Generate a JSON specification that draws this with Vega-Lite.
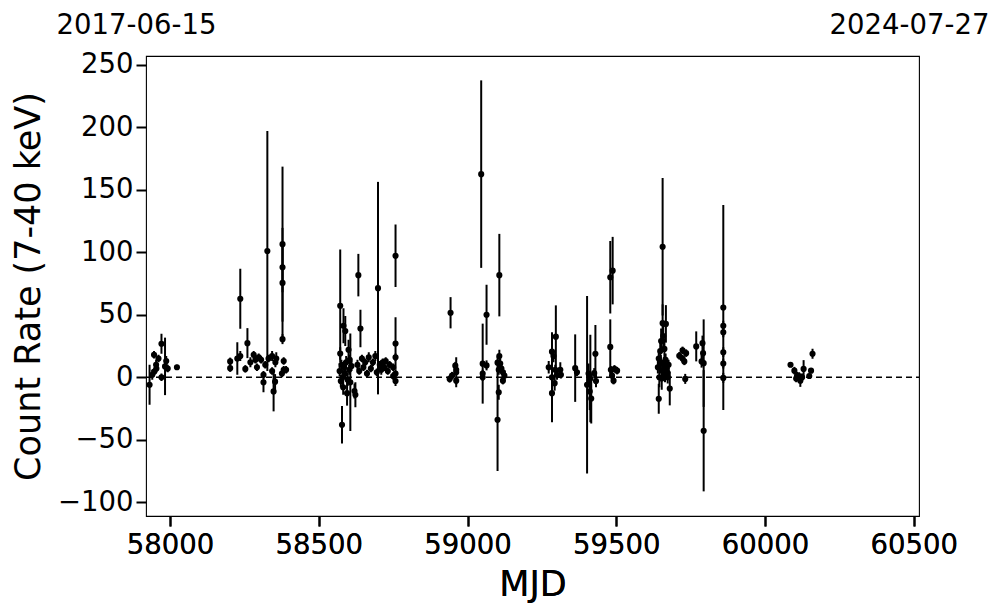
{
  "$schema": "https://vega.github.io/schema/vega-lite/v6.json",
  "width": 773,
  "height": 460,
  "autosize": "none",
  "padding": {"left": 146, "top": 56, "right": 78, "bottom": 97},
  "background": "white",
  "config": {
    "view": {"stroke": "black", "strokeWidth": 1.1},
    "font": "DejaVu Sans",
    "axis": {
      "labelFont": "DejaVu Sans", "titleFont": "DejaVu Sans",
      "labelColor": "black", "titleColor": "black",
      "labelFontSize": 27.5, "titleFontSize": 35, "titleFontWeight": "normal",
      "grid": false, "domain": false,
      "tickColor": "black", "tickSize": 10, "tickWidth": 2
    }
  },
  "datasets": {
    "obs": [
      {"mjd": 57931, "rate": -6, "err": 16},
      {"mjd": 57940, "rate": 2, "err": 4},
      {"mjd": 57947, "rate": 4.6, "err": 3},
      {"mjd": 57946, "rate": 18, "err": 3},
      {"mjd": 57953, "rate": 10, "err": 4},
      {"mjd": 57954, "rate": 7, "err": 3},
      {"mjd": 57961, "rate": 15, "err": 3},
      {"mjd": 57971, "rate": 26.8, "err": 8},
      {"mjd": 57971, "rate": 0, "err": 3},
      {"mjd": 57983, "rate": 8.7, "err": 23},
      {"mjd": 57987, "rate": 13, "err": 4},
      {"mjd": 57992, "rate": 7, "err": 3},
      {"mjd": 58023, "rate": 8, "err": 2},
      {"mjd": 58202, "rate": 12.7, "err": 3},
      {"mjd": 58202, "rate": 7.3, "err": 3},
      {"mjd": 58226, "rate": 15, "err": 13},
      {"mjd": 58236, "rate": 62.8, "err": 24},
      {"mjd": 58236, "rate": 17, "err": 4},
      {"mjd": 58253, "rate": 6.7, "err": 3},
      {"mjd": 58260, "rate": 27.3, "err": 12},
      {"mjd": 58270, "rate": 12, "err": 4},
      {"mjd": 58281, "rate": 18, "err": 3},
      {"mjd": 58287, "rate": 14, "err": 3},
      {"mjd": 58292, "rate": 8, "err": 3},
      {"mjd": 58298, "rate": 16, "err": 3},
      {"mjd": 58306, "rate": 14, "err": 3},
      {"mjd": 58314, "rate": -4, "err": 8},
      {"mjd": 58314, "rate": 2, "err": 3},
      {"mjd": 58320, "rate": 10, "err": 3},
      {"mjd": 58327, "rate": 101, "err": 96},
      {"mjd": 58331, "rate": 15, "err": 3},
      {"mjd": 58343, "rate": 17, "err": 4},
      {"mjd": 58343, "rate": 5, "err": 3},
      {"mjd": 58348, "rate": -11.3, "err": 16},
      {"mjd": 58353, "rate": -3.5, "err": 6},
      {"mjd": 58354, "rate": 12, "err": 4},
      {"mjd": 58357, "rate": 15, "err": 5},
      {"mjd": 58376, "rate": 3, "err": 3},
      {"mjd": 58378, "rate": 106.5, "err": 62},
      {"mjd": 58378, "rate": 88, "err": 20},
      {"mjd": 58378, "rate": 75.5, "err": 44},
      {"mjd": 58378, "rate": 30.5, "err": 4},
      {"mjd": 58382, "rate": 6, "err": 3},
      {"mjd": 58382, "rate": 13, "err": 3},
      {"mjd": 58390, "rate": 6, "err": 3},
      {"mjd": 58570, "rate": 5, "err": 4},
      {"mjd": 58572, "rate": 57.2, "err": 45},
      {"mjd": 58572, "rate": 19, "err": 5},
      {"mjd": 58574, "rate": -3, "err": 5},
      {"mjd": 58576, "rate": 10, "err": 4},
      {"mjd": 58578, "rate": -38, "err": 15},
      {"mjd": 58580, "rate": 0, "err": 6},
      {"mjd": 58582, "rate": -8, "err": 6},
      {"mjd": 58583, "rate": 41.2, "err": 14},
      {"mjd": 58585, "rate": 8, "err": 5},
      {"mjd": 58588, "rate": 3, "err": 4},
      {"mjd": 58589, "rate": 37, "err": 12},
      {"mjd": 58592, "rate": 12, "err": 5},
      {"mjd": 58595, "rate": -12.7, "err": 10},
      {"mjd": 58597, "rate": -2, "err": 5},
      {"mjd": 58600, "rate": 22, "err": 8},
      {"mjd": 58602, "rate": 6, "err": 4},
      {"mjd": 58604, "rate": 14, "err": 4},
      {"mjd": 58606, "rate": -4, "err": 39},
      {"mjd": 58610, "rate": 9, "err": 4},
      {"mjd": 58620, "rate": -11, "err": 6},
      {"mjd": 58623, "rate": -14, "err": 10},
      {"mjd": 58630, "rate": 10, "err": 4},
      {"mjd": 58633, "rate": 81.7, "err": 17},
      {"mjd": 58636, "rate": 5, "err": 3},
      {"mjd": 58640, "rate": 39, "err": 15},
      {"mjd": 58645, "rate": 15, "err": 3},
      {"mjd": 58650, "rate": 8, "err": 3},
      {"mjd": 58656, "rate": 12, "err": 3},
      {"mjd": 58662, "rate": 3, "err": 3},
      {"mjd": 58668, "rate": 16, "err": 4},
      {"mjd": 58675, "rate": 7, "err": 3},
      {"mjd": 58682, "rate": 12, "err": 3},
      {"mjd": 58690, "rate": 17, "err": 4},
      {"mjd": 58695, "rate": 4, "err": 3},
      {"mjd": 58699, "rate": 71.3, "err": 85},
      {"mjd": 58705, "rate": 10, "err": 3},
      {"mjd": 58710, "rate": 6, "err": 4},
      {"mjd": 58715, "rate": 12, "err": 3},
      {"mjd": 58720, "rate": 8, "err": 3},
      {"mjd": 58725, "rate": 13, "err": 3},
      {"mjd": 58732, "rate": 5, "err": 3},
      {"mjd": 58738, "rate": 10, "err": 3},
      {"mjd": 58750, "rate": 8, "err": 3},
      {"mjd": 58750, "rate": 1, "err": 3},
      {"mjd": 58758, "rate": 97.2, "err": 25},
      {"mjd": 58758, "rate": 27, "err": 21},
      {"mjd": 58758, "rate": -3, "err": 4},
      {"mjd": 58758, "rate": 3, "err": 3},
      {"mjd": 58758, "rate": 16, "err": 3},
      {"mjd": 58940, "rate": -1.3, "err": 3},
      {"mjd": 58943, "rate": 51.6, "err": 12.5},
      {"mjd": 58948, "rate": 1.3, "err": 3},
      {"mjd": 58959, "rate": 9.3, "err": 3},
      {"mjd": 58962, "rate": 4, "err": 12},
      {"mjd": 58962, "rate": -2.7, "err": 3},
      {"mjd": 58962, "rate": 6, "err": 3},
      {"mjd": 59046, "rate": 162.5, "err": 75},
      {"mjd": 59051, "rate": 10.9, "err": 32},
      {"mjd": 59051, "rate": 0, "err": 3},
      {"mjd": 59051, "rate": 3, "err": 3},
      {"mjd": 59064, "rate": 50, "err": 24},
      {"mjd": 59064, "rate": 9.5, "err": 4},
      {"mjd": 59101, "rate": -34, "err": 41},
      {"mjd": 59101, "rate": 11.7, "err": 5},
      {"mjd": 59105, "rate": -12, "err": 6},
      {"mjd": 59105, "rate": 6, "err": 4},
      {"mjd": 59107, "rate": 81.7, "err": 33},
      {"mjd": 59107, "rate": 17, "err": 5},
      {"mjd": 59110, "rate": 11, "err": 4},
      {"mjd": 59114, "rate": 7, "err": 3},
      {"mjd": 59119, "rate": 4, "err": 3},
      {"mjd": 59119, "rate": -2.7, "err": 3},
      {"mjd": 59124, "rate": 1.3, "err": 4},
      {"mjd": 59273, "rate": 8, "err": 5},
      {"mjd": 59284, "rate": 0, "err": 36},
      {"mjd": 59284, "rate": 20.5, "err": 5},
      {"mjd": 59284, "rate": -12.7, "err": 8},
      {"mjd": 59289, "rate": 17, "err": 5},
      {"mjd": 59293, "rate": -4.7, "err": 6},
      {"mjd": 59295, "rate": 6, "err": 4},
      {"mjd": 59297, "rate": 32.5, "err": 25},
      {"mjd": 59301, "rate": 2, "err": 4},
      {"mjd": 59312, "rate": 6, "err": 6},
      {"mjd": 59314, "rate": 2, "err": 3},
      {"mjd": 59362, "rate": 7.3, "err": 27},
      {"mjd": 59368, "rate": 4, "err": 3},
      {"mjd": 59402, "rate": -6, "err": 71},
      {"mjd": 59407, "rate": 3, "err": 8},
      {"mjd": 59411, "rate": -11.3, "err": 15},
      {"mjd": 59413, "rate": -1, "err": 35},
      {"mjd": 59416, "rate": -17, "err": 20},
      {"mjd": 59426, "rate": 3.3, "err": 4},
      {"mjd": 59430, "rate": 18.8, "err": 23},
      {"mjd": 59432, "rate": -3, "err": 5},
      {"mjd": 59480, "rate": 80, "err": 29},
      {"mjd": 59480, "rate": 24.3, "err": 22},
      {"mjd": 59482, "rate": 6, "err": 3},
      {"mjd": 59486, "rate": 1.3, "err": 3},
      {"mjd": 59488, "rate": 85.3, "err": 27},
      {"mjd": 59491, "rate": -2.7, "err": 3},
      {"mjd": 59494, "rate": 6.7, "err": 3},
      {"mjd": 59503, "rate": 5.3, "err": 3},
      {"mjd": 59640, "rate": 8, "err": 5},
      {"mjd": 59643, "rate": 15, "err": 6},
      {"mjd": 59643, "rate": -17.2, "err": 12},
      {"mjd": 59645, "rate": 0, "err": 8},
      {"mjd": 59648, "rate": 21, "err": 8},
      {"mjd": 59650, "rate": 12, "err": 6},
      {"mjd": 59651, "rate": 29, "err": 10},
      {"mjd": 59653, "rate": -1, "err": 9},
      {"mjd": 59655, "rate": 5, "err": 7},
      {"mjd": 59656, "rate": 104.4, "err": 55},
      {"mjd": 59656, "rate": 43.3, "err": 15},
      {"mjd": 59658, "rate": 33, "err": 12},
      {"mjd": 59660, "rate": 10, "err": 6},
      {"mjd": 59662, "rate": 22.7, "err": 8},
      {"mjd": 59664, "rate": 2, "err": 6},
      {"mjd": 59666, "rate": 14, "err": 5},
      {"mjd": 59667, "rate": 42.7, "err": 15},
      {"mjd": 59670, "rate": 7, "err": 5},
      {"mjd": 59672, "rate": 4, "err": 6},
      {"mjd": 59673, "rate": 0, "err": 5},
      {"mjd": 59676, "rate": 10, "err": 4},
      {"mjd": 59680, "rate": -9, "err": 13.5},
      {"mjd": 59712, "rate": 17.2, "err": 3},
      {"mjd": 59723, "rate": 21.5, "err": 3},
      {"mjd": 59723, "rate": 15, "err": 3},
      {"mjd": 59729, "rate": 12.7, "err": 3},
      {"mjd": 59732, "rate": -1.3, "err": 4},
      {"mjd": 59735, "rate": 19.3, "err": 3},
      {"mjd": 59769, "rate": 24.7, "err": 12},
      {"mjd": 59787, "rate": 12.7, "err": 5},
      {"mjd": 59790, "rate": 27.3, "err": 6},
      {"mjd": 59792, "rate": 19.3, "err": 6},
      {"mjd": 59794, "rate": 11.3, "err": 35},
      {"mjd": 59794, "rate": -42.8, "err": 48.5},
      {"mjd": 59860, "rate": 55.8, "err": 82},
      {"mjd": 59860, "rate": 41.2, "err": 4},
      {"mjd": 59860, "rate": 36, "err": 4},
      {"mjd": 59860, "rate": 20, "err": 4},
      {"mjd": 59860, "rate": 11, "err": 4},
      {"mjd": 59860, "rate": -0.5, "err": 4},
      {"mjd": 60086, "rate": 10, "err": 2},
      {"mjd": 60099, "rate": 5.3, "err": 3},
      {"mjd": 60105, "rate": -1, "err": 3},
      {"mjd": 60108, "rate": 1.3, "err": 3},
      {"mjd": 60115, "rate": 1, "err": 3},
      {"mjd": 60119, "rate": -2.7, "err": 5},
      {"mjd": 60125, "rate": 0, "err": 3},
      {"mjd": 60130, "rate": 6.7, "err": 7},
      {"mjd": 60149, "rate": 1, "err": 2},
      {"mjd": 60155, "rate": 5.3, "err": 2},
      {"mjd": 60160, "rate": 18.8, "err": 4}
    ],
    "ends": [
      {"mjd": 57919, "date": "2017-06-15"},
      {"mjd": 60518, "date": "2024-07-27"}
    ]
  },
  "layer": [
    {
      "data": {"name": "obs"},
      "mark": {"type": "errorbar", "color": "black", "thickness": 2},
      "encoding": {
        "x": {
          "field": "mjd", "type": "quantitative",
          "scale": {"domain": [57919, 60518], "nice": false, "zero": false},
          "axis": {"orient": "bottom", "title": "MJD", "values": [58000, 58500, 59000, 59500, 60000, 60500], "format": "d", "labelPadding": 5, "titlePadding": 9}
        },
        "y": {
          "field": "rate", "type": "quantitative",
          "scale": {"domain": [-111, 257], "nice": false, "zero": false},
          "axis": {"title": "Count Rate (7-40 keV)", "values": [-100, -50, 0, 50, 100, 150, 200, 250], "labelPadding": 3, "titlePadding": 11}
        },
        "yError": {"field": "err"}
      }
    },
    {
      "data": {"name": "obs"},
      "mark": {"type": "circle", "color": "black", "opacity": 1, "size": 38},
      "encoding": {
        "x": {
          "field": "mjd", "type": "quantitative",
          "scale": {"domain": [57919, 60518], "nice": false, "zero": false},
          "axis": {"orient": "bottom", "title": "MJD", "values": [58000, 58500, 59000, 59500, 60000, 60500], "format": "d", "labelPadding": 5, "titlePadding": 9}
        },
        "y": {
          "field": "rate", "type": "quantitative",
          "scale": {"domain": [-111, 257], "nice": false, "zero": false},
          "axis": {"title": "Count Rate (7-40 keV)", "values": [-100, -50, 0, 50, 100, 150, 200, 250], "labelPadding": 3, "titlePadding": 11}
        }
      }
    },
    {
      "data": {"name": "ends"},
      "mark": {"type": "rule", "color": "black", "strokeDash": [6, 4], "strokeWidth": 1.5},
      "encoding": {
        "x": {
          "field": "mjd", "type": "quantitative", "aggregate": "min",
          "axis": {"orient": "top", "title": null, "values": [57919, 60518], "labelExpr": "datum.value < 59000 ? '2017-06-15' : '2024-07-27'", "ticks": false, "labelFontSize": 27.5, "labelPadding": 17, "labelOffset": -10, "labelFlush": false, "labelOverlap": false}
        },
        "x2": {"field": "mjd", "aggregate": "max"},
        "y": {"datum": 0, "type": "quantitative"}
      }
    }
  ]
}
